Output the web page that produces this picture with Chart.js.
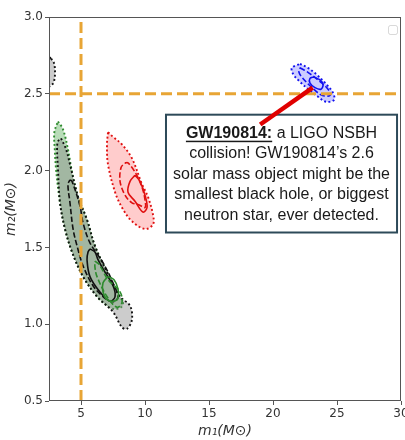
<!DOCTYPE html>
<html>
<head>
<meta charset="utf-8">
<script src="https://cdn.jsdelivr.net/npm/chart.js@4.4.1/dist/chart.umd.min.js"></script>
<style>
  html, body { margin: 0; padding: 0; background: #fff; }
  #wrap { width: 405px; height: 440px; }
</style>
</head>
<body>
<div id="wrap"><canvas id="myChart" width="405" height="440"></canvas></div>
<script>
// axis ticks
var xTicks = [5, 10, 15, 20, 25, 30];
var yTicks = [0.5, 1.0, 1.5, 2.0, 2.5, 3.0];

// credible regions, m1 / m2 pairs
var greenOuterX = [3.20, 3.59, 3.98, 4.30, 4.77, 5.47, 6.09, 7.03, 7.89, 8.28, 8.13, 7.50, 6.88, 6.25, 5.16, 4.30, 3.75, 3.36, 3.05, 2.95, 2.92];
var greenOuterY = [2.32, 2.27, 2.14, 1.99, 1.83, 1.68, 1.51, 1.34, 1.20, 1.14, 1.11, 1.10, 1.13, 1.18, 1.31, 1.47, 1.62, 1.79, 2.01, 2.14, 2.25];
var greenMidX = [6.09, 6.41, 7.11, 8.05, 8.20, 7.81, 7.03, 6.25, 6.09];
var greenMidY = [1.41, 1.39, 1.29, 1.21, 1.14, 1.11, 1.18, 1.31, 1.37];
var greenInnerX = [7.11, 7.58, 7.89, 7.89, 7.58, 7.03, 6.72, 6.72];
var greenInnerY = [1.31, 1.29, 1.23, 1.17, 1.15, 1.16, 1.21, 1.27];

var grayOuterX = [3.44, 3.83, 4.14, 4.77, 5.47, 6.09, 7.03, 8.05, 8.83, 8.98, 8.59, 8.20, 7.50, 6.25, 5.16, 4.30, 3.75, 3.36, 3.20, 3.13, 3.20];
var grayOuterY = [2.21, 2.14, 2.04, 1.83, 1.68, 1.51, 1.34, 1.18, 1.12, 1.03, 0.97, 0.98, 1.08, 1.18, 1.31, 1.47, 1.62, 1.79, 2.01, 2.14, 2.19];
var grayMidX = [4.14, 4.30, 4.92, 5.16, 5.70, 6.72, 7.50, 7.89, 7.66, 7.27, 6.72, 5.94, 5.16, 4.69, 4.38, 4.14, 3.98];
var grayMidY = [1.94, 1.93, 1.77, 1.66, 1.53, 1.40, 1.27, 1.18, 1.15, 1.15, 1.18, 1.25, 1.38, 1.51, 1.62, 1.79, 1.91];
var grayInnerX = [5.70, 6.09, 6.33, 6.72, 7.50, 7.66, 7.27, 6.48, 5.70, 5.47, 5.55];
var grayInnerY = [1.49, 1.47, 1.42, 1.36, 1.25, 1.18, 1.15, 1.21, 1.31, 1.42, 1.47];
var grayEdgeX = [2.66, 2.89, 2.97, 2.89, 2.73, 2.20, 2.20];
var grayEdgeY = [2.73, 2.70, 2.64, 2.58, 2.56, 2.54, 2.75];

var redOuterX = [7.11, 7.50, 8.20, 8.98, 9.77, 10.23, 10.63, 10.63, 10.00, 8.98, 8.20, 7.66, 7.11, 7.03];
var redOuterY = [2.25, 2.22, 2.17, 2.08, 1.91, 1.83, 1.71, 1.65, 1.62, 1.67, 1.76, 1.86, 2.04, 2.17];
var redMidX = [8.44, 8.67, 9.22, 9.77, 10.00, 10.00, 9.45, 8.98, 8.44, 8.05, 8.13];
var redMidY = [2.05, 2.05, 1.99, 1.89, 1.81, 1.76, 1.78, 1.79, 1.84, 1.93, 2.02];
var redInnerX = [9.22, 9.61, 10.00, 10.16, 9.84, 9.22, 8.67, 8.83];
var redInnerY = [1.97, 1.93, 1.84, 1.76, 1.73, 1.80, 1.86, 1.93];

var blueOuterX = [22.11, 22.73, 23.44, 24.14, 24.69, 24.77, 24.14, 23.52, 22.81, 22.11, 21.56, 21.48];
var blueOuterY = [2.695, 2.669, 2.623, 2.565, 2.506, 2.461, 2.448, 2.481, 2.526, 2.578, 2.630, 2.669];
var blueMidX = [22.11, 22.73, 23.52, 24.30, 24.45, 23.83, 23.05, 22.34, 22.03];
var blueMidY = [2.67, 2.64, 2.59, 2.53, 2.49, 2.49, 2.54, 2.60, 2.64];
var blueInnerX = [23.20, 23.67, 23.91, 23.75, 23.28, 22.89, 22.89];
var blueInnerY = [2.61, 2.59, 2.56, 2.53, 2.54, 2.57, 2.60];

// mass-gap guides and the pointer to GW190814
var gapM1 = 5;
var gapM2 = 2.5;
var pointerX = [23.1, 19.0];
var pointerY = [2.54, 2.30];

var noteLines = [
    "collision! GW190814\u2019s 2.6",
    "solar mass object might be the",
    "smallest black hole, or biggest",
    "neutron star, ever detected."
];

var dashes = { solid: [], dashed: [5.5, 2.4], dotted: [1.9, 2.4] };
var orange = "#e8a535";

function closed(xs, ys) {
    var p = xs.map(function (x, i) { return { x: x, y: ys[i] }; });
    p.push(p[0]);
    return p;
}

function contour(xs, ys, color, style, fillColor) {
    return {
        data: closed(xs, ys),
        showLine: true,
        borderColor: color,
        borderWidth: style === "dotted" ? 1.9 : 1.6,
        borderDash: dashes[style],
        backgroundColor: fillColor || "transparent",
        fill: fillColor ? "shape" : false,
        pointRadius: 0,
        tension: 0.35
    };
}

function segment(xs, ys, color, width, dash) {
    return {
        data: xs.map(function (x, i) { return { x: x, y: ys[i] }; }),
        showLine: true,
        borderColor: color,
        borderWidth: width,
        borderDash: dash,
        fill: false,
        pointRadius: 0,
        tension: 0
    };
}

// listed bottom to top
var datasets = [
    contour(greenOuterX, greenOuterY, "#2e8b2e", "dotted", "rgba(0,128,0,0.28)"),
    contour(grayOuterX, grayOuterY, "#111", "dotted", "rgba(128,128,128,0.4)"),
    contour(grayEdgeX, grayEdgeY, "#111", "dotted", "rgba(128,128,128,0.4)"),
    contour(redOuterX, redOuterY, "#e01010", "dotted", "rgba(255,0,0,0.2)"),
    contour(blueOuterX, blueOuterY, "#1010f0", "dotted", "rgba(0,0,255,0.2)"),
    contour(grayMidX, grayMidY, "#111", "dashed"),
    contour(grayInnerX, grayInnerY, "#111", "solid"),
    contour(greenMidX, greenMidY, "#2e8b2e", "dashed"),
    contour(greenInnerX, greenInnerY, "#2e8b2e", "solid"),
    contour(redMidX, redMidY, "#e01010", "dashed"),
    contour(redInnerX, redInnerY, "#e01010", "solid"),
    contour(blueMidX, blueMidY, "#1010f0", "dashed"),
    contour(blueInnerX, blueInnerY, "#1010f0", "solid"),
    segment([gapM1, gapM1], [0.5, 3.0], orange, 3, [11, 5]),
    segment([2.5, 30], [gapM2, gapM2], orange, 3, [11, 5]),
    segment(pointerX, pointerY, "#e00000", 4.5, [])
];
datasets.forEach(function (d, i) { d.order = datasets.length - i; });

var notePlugin = {
    id: "note",
    beforeDatasetsDraw: function (chart) {
        var ctx = chart.ctx;
        var sx = chart.scales.x, sy = chart.scales.y;
        var left = sx.getPixelForValue(11.64), right = sx.getPixelForValue(29.69);
        var top = sy.getPixelForValue(2.364), bottom = sy.getPixelForValue(1.597);
        var cx = (left + right) / 2;
        ctx.save();
        ctx.fillStyle = "#fff";
        ctx.fillRect(left, top, right - left, bottom - top);
        ctx.strokeStyle = "#2d4a59";
        ctx.lineWidth = 2;
        ctx.strokeRect(left, top, right - left, bottom - top);

        ctx.fillStyle = "#1a1a1a";
        ctx.textBaseline = "middle";
        ctx.textAlign = "left";
        var fam = '"Liberation Sans", Arial, sans-serif';
        var head = "GW190814:", rest = " a LIGO NSBH";
        ctx.font = "bold 16px " + fam;
        var wh = ctx.measureText(head).width;
        ctx.font = "16px " + fam;
        var wr = ctx.measureText(rest).width;
        var x0 = cx - (wh + wr) / 2;
        var y0 = top + 18.5;
        ctx.font = "bold 16px " + fam;
        ctx.fillText(head, x0, y0);
        ctx.fillRect(x0, y0 + 7.5, wh, 1.5);
        ctx.font = "16px " + fam;
        ctx.fillText(rest, x0 + wh, y0);
        ctx.textAlign = "center";
        noteLines.forEach(function (t, i) {
            ctx.fillText(t, cx, y0 + 20.5 * (i + 1));
        });
        ctx.restore();
    },
    afterDatasetsDraw: function (chart) {
        var ctx = chart.ctx, a = chart.chartArea;
        ctx.save();
        ctx.strokeStyle = "#555";
        ctx.lineWidth = 1;
        ctx.strokeRect(a.left + 0.5, a.top + 0.5, a.right - a.left - 1, a.bottom - a.top - 1);
        // empty legend frame
        ctx.strokeStyle = "rgba(0,0,0,0.15)";
        ctx.beginPath();
        ctx.roundRect(a.right - 12.5, a.top + 8.5, 9, 9, 2);
        ctx.stroke();
        ctx.restore();
    }
};

var tickFont = { family: "DejaVu Sans", size: 12 };
var titleFont = { family: "DejaVu Sans", size: 14, style: "italic" };

var myChart = document.getElementById("myChart").getContext("2d");
var chart = new Chart(myChart, {
    type: "scatter",
    data: { datasets: datasets },
    options: {
        responsive: false,
        animation: false,
        devicePixelRatio: 1,
        layout: { padding: { left: 0, right: 4, top: 17, bottom: 0 } },
        plugins: { legend: { display: false }, tooltip: { enabled: false } },
        scales: {
            x: {
                type: "linear",
                min: 2.5,
                max: 30,
                afterBuildTicks: function (s) { s.ticks = xTicks.map(function (v) { return { value: v }; }); },
                afterFit: function (s) { s.height = 39; s.paddingLeft = 0; s.paddingRight = 0; },
                grid: { display: true, drawOnChartArea: false, drawTicks: true, tickLength: 4, tickColor: "#555" },
                border: { display: false },
                ticks: { font: tickFont, color: "#333", padding: 2, maxRotation: 0, autoSkip: false },
                title: { display: true, text: "m\u2081(M\u2299)", font: titleFont, color: "#333", padding: { top: 0, bottom: 0 } }
            },
            y: {
                type: "linear",
                min: 0.5,
                max: 3.0,
                afterBuildTicks: function (s) { s.ticks = yTicks.map(function (v) { return { value: v }; }); },
                afterFit: function (s) { s.width = 49; s.paddingTop = 0; s.paddingBottom = 0; },
                grid: { display: true, drawOnChartArea: false, drawTicks: true, tickLength: 4, tickColor: "#555" },
                border: { display: false },
                ticks: {
                    font: tickFont, color: "#333", padding: 2, autoSkip: false,
                    callback: function (v) { return v.toFixed(1); }
                },
                title: { display: true, text: "m\u2082(M\u2299)", font: titleFont, color: "#333", padding: { top: 3, bottom: 0 } }
            }
        }
    },
    plugins: [notePlugin]
});
</script>
</body>
</html>
